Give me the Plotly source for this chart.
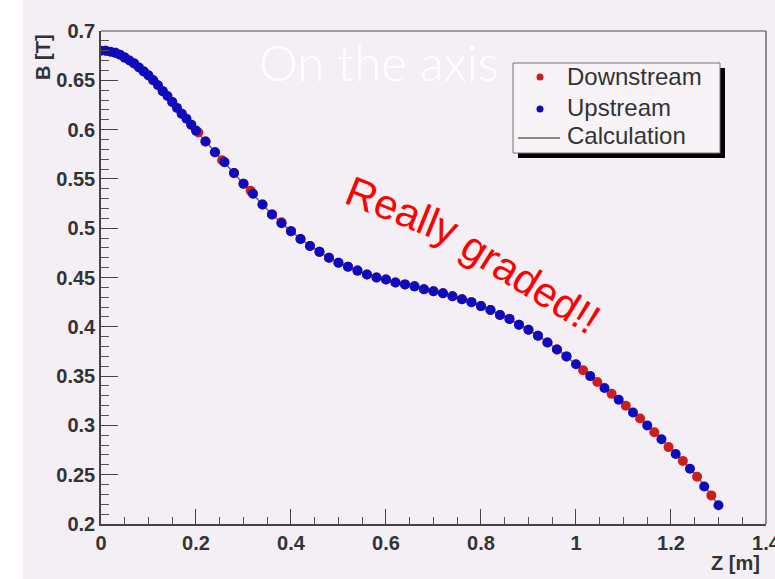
import plotly.graph_objects as go

# Field measurements along the axis: position Z [m] and field B [T]
z_upstream = [0.00, 0.01, 0.02, 0.03, 0.04, 0.05, 0.06, 0.07, 0.08, 0.09,
              0.10, 0.11, 0.12, 0.13, 0.14, 0.15, 0.16, 0.17, 0.18, 0.19,
              0.20, 0.22, 0.24, 0.26, 0.28, 0.30, 0.32, 0.34, 0.36, 0.38,
              0.40, 0.42, 0.44, 0.46, 0.48, 0.50, 0.52, 0.54, 0.56, 0.58,
              0.60, 0.62, 0.64, 0.66, 0.68, 0.70, 0.72, 0.74, 0.76, 0.78,
              0.80, 0.82, 0.84, 0.86, 0.88, 0.90, 0.92, 0.94, 0.96, 0.98,
              1.00, 1.03, 1.06, 1.09, 1.12, 1.15, 1.18, 1.21, 1.24, 1.27, 1.30]
b_upstream = [0.680, 0.680, 0.679, 0.678, 0.676, 0.673, 0.670, 0.667, 0.663, 0.659,
              0.655, 0.650, 0.645, 0.639, 0.634, 0.628, 0.622, 0.616, 0.611, 0.605,
              0.599, 0.588, 0.577, 0.567, 0.556, 0.545, 0.535, 0.524, 0.514, 0.505,
              0.497, 0.489, 0.482, 0.476, 0.470, 0.465, 0.461, 0.457, 0.453, 0.450,
              0.448, 0.445, 0.443, 0.441, 0.438, 0.436, 0.434, 0.431, 0.428, 0.425,
              0.421, 0.417, 0.412, 0.408, 0.402, 0.397, 0.391, 0.384, 0.377, 0.370,
              0.362, 0.350, 0.338, 0.326, 0.313, 0.300, 0.286, 0.271, 0.256, 0.238, 0.219]

z_downstream = [0.01, 0.03, 0.05, 0.07, 0.09, 0.11, 0.13, 0.15, 0.17, 0.19,
                0.205, 0.22, 0.24, 0.255, 0.28, 0.30, 0.315, 0.34, 0.36, 0.38,
                0.40, 0.42, 0.44, 0.46, 0.48, 0.50, 0.52, 0.54, 0.56, 0.58,
                0.60, 0.62, 0.64, 0.66, 0.68, 0.70, 0.72, 0.74, 0.76, 0.78,
                0.80, 0.82, 0.84, 0.86, 0.88, 0.90, 0.92, 0.94, 0.96, 0.98,
                1.015, 1.045, 1.075, 1.105, 1.135, 1.165, 1.195, 1.225, 1.255, 1.285]
b_downstream = [0.680, 0.678, 0.673, 0.667, 0.659, 0.650, 0.639, 0.628, 0.616, 0.605,
                0.597, 0.588, 0.577, 0.569, 0.556, 0.545, 0.538, 0.524, 0.514, 0.506,
                0.497, 0.489, 0.482, 0.476, 0.470, 0.465, 0.461, 0.457, 0.453, 0.450,
                0.448, 0.445, 0.443, 0.441, 0.438, 0.436, 0.434, 0.431, 0.428, 0.425,
                0.421, 0.417, 0.412, 0.408, 0.402, 0.397, 0.391, 0.384, 0.377, 0.370,
                0.356, 0.344, 0.332, 0.320, 0.307, 0.293, 0.278, 0.264, 0.248, 0.229]

# Calculated field profile
z_calc = [0.00, 0.05, 0.10, 0.15, 0.20, 0.25, 0.30, 0.35, 0.40, 0.45, 0.50, 0.55, 0.60, 0.65,
          0.70, 0.75, 0.80, 0.85, 0.90, 0.95, 1.00, 1.05, 1.10, 1.15, 1.20, 1.25, 1.30]
b_calc = [0.680, 0.673, 0.655, 0.628, 0.599, 0.572, 0.545, 0.519, 0.497, 0.479, 0.465, 0.455, 0.448, 0.442,
          0.436, 0.430, 0.421, 0.410, 0.397, 0.381, 0.362, 0.342, 0.322, 0.300, 0.276, 0.251, 0.219]

x_ticks = [0, 0.2, 0.4, 0.6, 0.8, 1.0, 1.2, 1.4]
x_tick_text = ["0", "0.2", "0.4", "0.6", "0.8", "1", "1.2", "1.4"]
y_ticks = [0.2, 0.25, 0.3, 0.35, 0.4, 0.45, 0.5, 0.55, 0.6, 0.65, 0.7]
y_tick_text = ["0.2", "0.25", "0.3", "0.35", "0.4", "0.45", "0.5", "0.55", "0.6", "0.65", "0.7"]

legend_labels = ["Downstream", "Upstream", "Calculation"]

W, H = 775, 579
ML, MR, MT, MB = 101, 9, 31, 55
PW, PH = W - ML - MR, H - MT - MB
BG = "#f4eff5"
RED = "rgb(205,30,30)"
BLUE = "rgb(12,12,190)"
TXT = "#333333"


def px(xp):
    return (xp - ML) / PW


def py(yp):
    return (H - MB - yp) / PH


fig = go.Figure()
fig.add_trace(go.Scatter(x=z_calc, y=b_calc, mode="lines", name=legend_labels[2],
                         line=dict(color="#666666", width=1.5, shape="spline"), showlegend=False))
fig.add_trace(go.Scatter(x=z_downstream, y=b_downstream, mode="markers", name=legend_labels[0],
                         marker=dict(color=RED, size=10), showlegend=False))
fig.add_trace(go.Scatter(x=z_upstream, y=b_upstream, mode="markers", name=legend_labels[1],
                         marker=dict(color=BLUE, size=10), showlegend=False))

tick_font = dict(family="Liberation Sans", size=20, color=TXT, weight="bold")

fig.update_xaxes(range=[0, 1.4001], tickmode="array", tickvals=x_ticks, ticktext=x_tick_text,
                 ticks="inside", ticklen=15, tickwidth=1, tickcolor="#444",
                 minor=dict(tickmode="linear", tick0=0, dtick=0.05, ticks="inside", ticklen=7,
                            tickcolor="#555", tickwidth=1),
                 showgrid=False, zeroline=False, showline=True, linecolor="#444", linewidth=1.5,
                 tickfont=tick_font, ticklabelstandoff=0, ticklabeloverflow="allow",
                 automargin=False)
fig.update_yaxes(range=[0.2, 0.7], tickmode="array", tickvals=y_ticks, ticktext=y_tick_text,
                 ticks="inside", ticklen=17, tickwidth=1, tickcolor="#444",
                 minor=dict(tickmode="linear", tick0=0.2, dtick=0.01, ticks="inside", ticklen=8,
                            tickcolor="#555", tickwidth=1),
                 showgrid=False, zeroline=False, showline=True, linecolor="#444", linewidth=1.5,
                 tickfont=tick_font, ticklabelstandoff=0, ticklabeloverflow="allow",
                 automargin=False)

shapes = [
    # white strip at the left edge
    dict(type="rect", xref="paper", yref="paper", x0=px(0), x1=px(23), y0=py(H), y1=py(0),
         fillcolor="white", line=dict(width=0), layer="above"),
    # top and right frame
    dict(type="line", xref="paper", yref="paper", x0=0, x1=1, y0=1, y1=1,
         line=dict(color="#9a9a9a", width=2)),
    dict(type="line", xref="paper", yref="paper", x0=1, x1=1, y0=0, y1=1,
         line=dict(color="#8a8a8a", width=2)),
    # legend shadow and box
    dict(type="rect", xref="paper", yref="paper", x0=px(518), x1=px(725), y0=py(158), y1=py(68),
         fillcolor="black", line=dict(width=0)),
    dict(type="rect", xref="paper", yref="paper", x0=px(513), x1=px(720), y0=py(153), y1=py(63),
         fillcolor="#f7f3f7", line=dict(color="#777", width=1)),
    dict(type="circle", xref="paper", yref="paper", x0=px(536.5), x1=px(543.5), y0=py(80.5), y1=py(73.5),
         fillcolor=RED, line=dict(width=0)),
    dict(type="circle", xref="paper", yref="paper", x0=px(536.5), x1=px(543.5), y0=py(112.5), y1=py(105.5),
         fillcolor=BLUE, line=dict(width=0)),
    dict(type="line", xref="paper", yref="paper", x0=px(518), x1=px(560), y0=py(138), y1=py(138),
         line=dict(color="#666", width=1.5)),
]

annotations = []
for label, yc in zip(legend_labels, [76, 107, 136]):
    annotations.append(dict(text=label, xref="paper", yref="paper", x=px(565), y=py(yc),
                            xanchor="left", yanchor="middle", showarrow=False,
                            font=dict(family="Liberation Sans", size=24, color=TXT)))

annotations += [
    dict(text="B [T]", xref="paper", yref="paper", x=px(43), y=py(57), textangle=-90,
         xanchor="center", yanchor="middle", showarrow=False,
         font=dict(family="Liberation Sans", size=20, color=TXT, weight="bold")),
    dict(text="Z [m]", xref="paper", yref="paper", x=px(735), y=py(563),
         xanchor="center", yanchor="middle", showarrow=False,
         font=dict(family="Liberation Sans", size=20, color=TXT, weight="bold")),
    dict(text="On the axis", xref="paper", yref="paper", x=px(257), y=py(62),
         xanchor="left", yanchor="middle", showarrow=False,
         font=dict(family="Lato", size=49, color="white", weight=300)),
    dict(text="Really", xref="paper", yref="paper", x=px(402), y=py(210), textangle=22,
         xanchor="center", yanchor="middle", showarrow=False,
         font=dict(family="Liberation Sans", size=42, color="#ff0000")),
    dict(text="graded!!", xref="paper", yref="paper", x=px(531), y=py(282), textangle=32,
         xanchor="center", yanchor="middle", showarrow=False,
         font=dict(family="Liberation Sans", size=42, color="#ff0000")),
]

fig.update_layout(width=W, height=H, autosize=False,
                  margin=dict(l=ML, r=MR, t=MT, b=MB),
                  paper_bgcolor=BG, plot_bgcolor=BG,
                  shapes=shapes, annotations=annotations, showlegend=False)

fig.write_html("out.html")
